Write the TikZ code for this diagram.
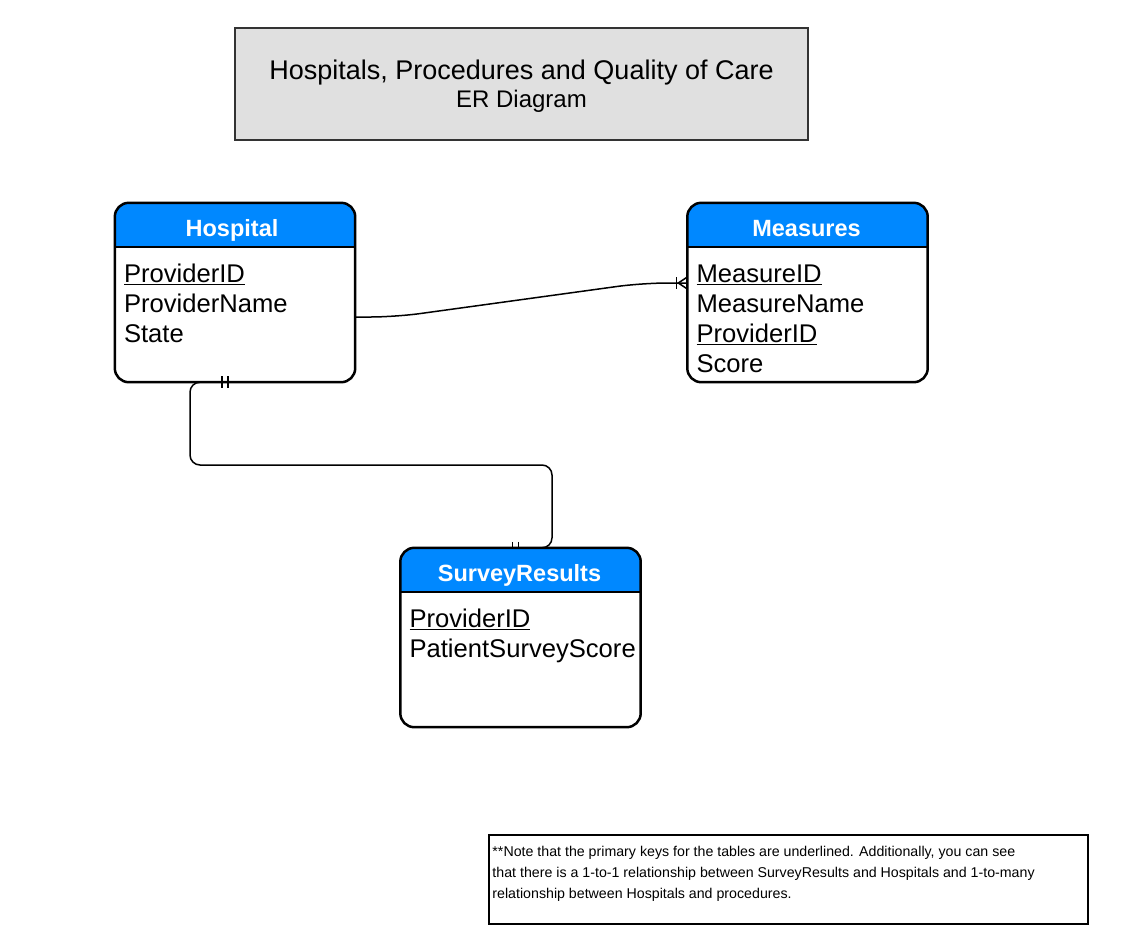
\documentclass[tikz,border=0pt]{standalone}
\usepackage{fontspec}
\setmainfont{Liberation Sans}

\begin{document}
\begin{tikzpicture}[x=1pt, y=-1pt,
  tablebox/.style={minimum width=240pt, minimum height=179pt, inner sep=0pt},
  headtext/.style={font=\bfseries\fontsize{23.5}{30}\selectfont, text=white, inner sep=0pt, anchor=base},
  fieldtext/.style={font=\fontsize{25.6}{30}\selectfont, inner sep=0pt, anchor=base west},
  conn/.style={line width=1.5pt},
  tableline/.style={line width=2.5pt}]
\definecolor{HeaderBlue}{HTML}{0088FF};
\definecolor{TitleGray}{HTML}{E0E0E0};
\definecolor{TitleLine}{HTML}{333333};

\useasboundingbox (0,0) rectangle (1126,948);

% title
\node[draw=TitleLine, line width=1.5pt, fill=TitleGray, minimum width=573pt, minimum height=112pt] (title) at (521.5,84) {};
\node[align=center, inner sep=0pt, font=\fontsize{27}{28}\selectfont] (title-text) at ([yshift=-2pt]title.center)
  {Hospitals, Procedures and Quality of Care\\
   {\fontsize{24}{28}\selectfont ER Diagram}};

% tables
\node[tablebox] (hospital) at (235,292.5) {};
\node[tablebox] (measures) at (807.5,292.5) {};
\node[tablebox] (survey) at (520.5,637.5) {};

\foreach \t in {hospital,measures,survey} {
  \begin{scope}
    \clip[rounded corners=14pt] (\t.north west) rectangle (\t.south east);
    \fill[HeaderBlue] (\t.north west) rectangle ([yshift=-44pt]\t.north east);
  \end{scope}
  \draw[tableline] ([yshift=-44pt]\t.north west) -- ([yshift=-44pt]\t.north east);
  \draw[tableline, rounded corners=14pt] (\t.north west) rectangle (\t.south east);
}

% headers
\node[headtext] (hospital-head) at ([xshift=-3pt, yshift=-34pt]hospital.north) {Hospital};
\node[headtext] (measures-head) at ([xshift=-1pt, yshift=-34pt]measures.north) {Measures};
\node[headtext] (survey-head) at ([xshift=-1pt, yshift=-34pt]survey.north) {SurveyResults};

% fields
\foreach \f [count=\i] in {\underline{ProviderID}, ProviderName, State}
  \node[fieldtext] (hospital-f\i) at ([xshift=9pt, yshift={-50pt-30pt*\i}]hospital.north west) {\f};
\foreach \f [count=\i] in {\underline{MeasureID}, MeasureName, \underline{ProviderID}, Score}
  \node[fieldtext] (measures-f\i) at ([xshift=9pt, yshift={-50pt-30pt*\i}]measures.north west) {\f};
\foreach \f [count=\i] in {\underline{ProviderID}, PatientSurveyScore}
  \node[fieldtext] (survey-f\i) at ([xshift=9pt, yshift={-50pt-30pt*\i}]survey.north west) {\f};

% hospital -- measures (one to many)
\coordinate (hEnd) at ([yshift=-24.5pt]hospital.east);
\coordinate (mEnd) at ([yshift=9.5pt]measures.west);
\draw[conn, rounded corners=25pt] (hEnd) -- ++(40,0) -- ([xshift=-45pt]mEnd) -- (mEnd);
\draw[conn] ([xshift=-11pt, yshift=6pt]mEnd) -- ([xshift=-11pt, yshift=-6pt]mEnd);
\draw[conn] ([yshift=6pt]mEnd) -- ([xshift=-9pt]mEnd) -- ([yshift=-6pt]mEnd);

% hospital -- survey (one to one)
\draw[conn, rounded corners=10pt] (hospital.south) -| (190,465) -| ([xshift=31.5pt]survey.north) -- (survey.north);
\foreach \dx in {-13,-7}
  \draw[conn] ([xshift=\dx pt, yshift=6pt]hospital.south) -- ([xshift=\dx pt, yshift=-6pt]hospital.south);
\foreach \dx in {-8,-2}
  \draw[conn] ([xshift=\dx pt, yshift=6pt]survey.north) -- ([xshift=\dx pt]survey.north);

% note
\node[draw, line width=1.5pt, minimum width=599pt, minimum height=89pt] (note) at (788.5,879.5) {};
\node[anchor=north west, inner sep=0pt, align=left, font=\fontsize{14.2}{21}\selectfont] (note-text) at ([xshift=4pt, yshift=-12pt]note.north west)
  {**Note that the primary keys for the tables are underlined. Additionally, you can see\\
   that there is a 1-to-1 relationship between SurveyResults and Hospitals and 1-to-many\\
   relationship between Hospitals and procedures.};
\end{tikzpicture}
\end{document}
